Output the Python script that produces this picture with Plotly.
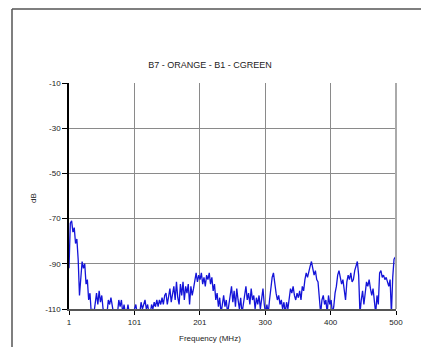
import numpy as np
import plotly.graph_objects as go

title_text = "B7 - ORANGE - B1 - CGREEN"
x_label = "Frequency (MHz)"
y_label = "dB"

freq_mhz = list(range(1, 501, 2))
level_db = [
    -92, -72, -71, -76, -74, -81, -79, -88, -104, -96,
    -89, -92, -90, -99, -97, -106, -103, -112, -110, -112,
    -106, -103, -108, -102, -107, -104, -110, -112, -112, -112,
    -106, -108, -105, -109, -112, -112, -112, -112, -106, -109,
    -106, -112, -108, -112, -112, -108, -112, -112, -112, -112,
    -110, -108, -112, -112, -112, -107, -110, -108, -106, -110,
    -108, -112, -112, -108, -110, -107, -109, -106, -109, -106,
    -108, -105, -108, -104, -103, -108, -105, -101, -107, -104,
    -100, -106, -98, -105, -108, -99, -104, -98, -106, -100,
    -103, -99, -108, -100, -104, -101, -97, -94, -98, -95,
    -97, -94, -99, -96, -100, -95, -97, -94, -99, -96,
    -102, -99, -106, -103, -109, -105, -112, -107, -104, -109,
    -106, -112, -108, -104, -100, -107, -102, -109, -101, -106,
    -110, -105, -112, -108, -104, -100, -106, -103, -108, -101,
    -106, -104, -110, -105, -108, -104, -110, -106, -101, -108,
    -112, -108, -112, -106, -100, -96, -94, -99, -103, -106,
    -104, -108, -106, -110, -107, -112, -107, -110, -106, -101,
    -103, -100, -104, -106, -103, -105, -102, -106, -100, -102,
    -97, -94, -96, -93, -91, -89, -92, -95, -93, -97,
    -98, -104, -112, -106, -104, -108, -106, -112, -104, -108,
    -106, -112, -109, -103, -100, -95, -93, -96, -99, -97,
    -103, -106, -98, -95, -97, -94, -98, -97, -93, -91,
    -89, -95, -112, -106, -102, -108, -101, -98, -100, -97,
    -101, -104, -101, -106, -112, -104, -108, -94, -93, -96,
    -95, -97, -96, -98, -100, -97, -112, -96, -88, -87,
]

x_tick_vals = [1, 100.8, 200.6, 300.4, 400.2, 500]
x_tick_text = ["1", "101", "201", "300", "400", "500"]
y_tick_vals = [-10, -30, -50, -70, -90, -110]
y_tick_text = ["-10", "-30", "-50", "-70", "-90", "-110"]

W, H = 421, 347
L, R, T, B = 69, 25, 83, 38
pw, ph = W - L - R, H - T - B


def px(x):
    return (x - L) / pw


def py(y):
    return (H - B - y) / ph


font = "Liberation Sans, Arial, sans-serif"

fig = go.Figure()
fig.add_trace(go.Scatter(
    x=freq_mhz, y=level_db, mode="lines",
    line=dict(color="#1414d8", width=1.3),
    cliponaxis=True, showlegend=False,
))

fig.update_layout(
    width=W, height=H,
    margin=dict(l=L, r=R, t=T, b=B),
    paper_bgcolor="white", plot_bgcolor="white",
    font=dict(family=font, size=8, color="#222"),
    title=dict(text=title_text, x=210 / W, xanchor="center",
               y=1 - 65 / H, yanchor="middle",
               font=dict(family=font, size=9, color="#222")),
    xaxis=dict(range=[1, 500], tickvals=x_tick_vals, ticktext=x_tick_text,
               showgrid=True, gridcolor="#8a8a8a", gridwidth=1,
               showline=True, linecolor="#555", linewidth=2,
               ticks="outside", ticklen=4, tickcolor="#000", tickwidth=1,
               zeroline=False, tickfont=dict(size=8)),
    yaxis=dict(range=[-110, -10], tickvals=y_tick_vals, ticktext=y_tick_text,
               showgrid=True, gridcolor="#8a8a8a", gridwidth=1,
               showline=True, linecolor="#000", linewidth=1.5,
               ticks="outside", ticklen=5, tickcolor="#000", tickwidth=1,
               zeroline=False, tickfont=dict(size=8)),
    annotations=[
        dict(text=x_label, xref="paper", yref="paper",
             x=px(210), y=py(338), xanchor="center", yanchor="middle",
             showarrow=False, font=dict(family=font, size=8, color="#222")),
        dict(text=y_label, xref="paper", yref="paper",
             x=px(33), y=py(198), xanchor="center", yanchor="middle",
             textangle=-90, showarrow=False,
             font=dict(family=font, size=8, color="#222")),
    ],
    shapes=[
        dict(type="line", xref="paper", yref="paper",
             x0=1, x1=1, y0=0, y1=1, line=dict(color="#aaa", width=2)),
        dict(type="line", xref="paper", yref="paper",
             x0=px(12), x1=px(421), y0=py(9), y1=py(9),
             line=dict(color="#555", width=1.5)),
        dict(type="line", xref="paper", yref="paper",
             x0=px(12), x1=px(12), y0=py(9), y1=py(347),
             line=dict(color="#555", width=1.5)),
    ],
)

fig.write_html(
    "out.html",
    config={"displayModeBar": False},
    post_script="document.body.style.margin='0';"
                "document.body.style.overflow='hidden';",
)
